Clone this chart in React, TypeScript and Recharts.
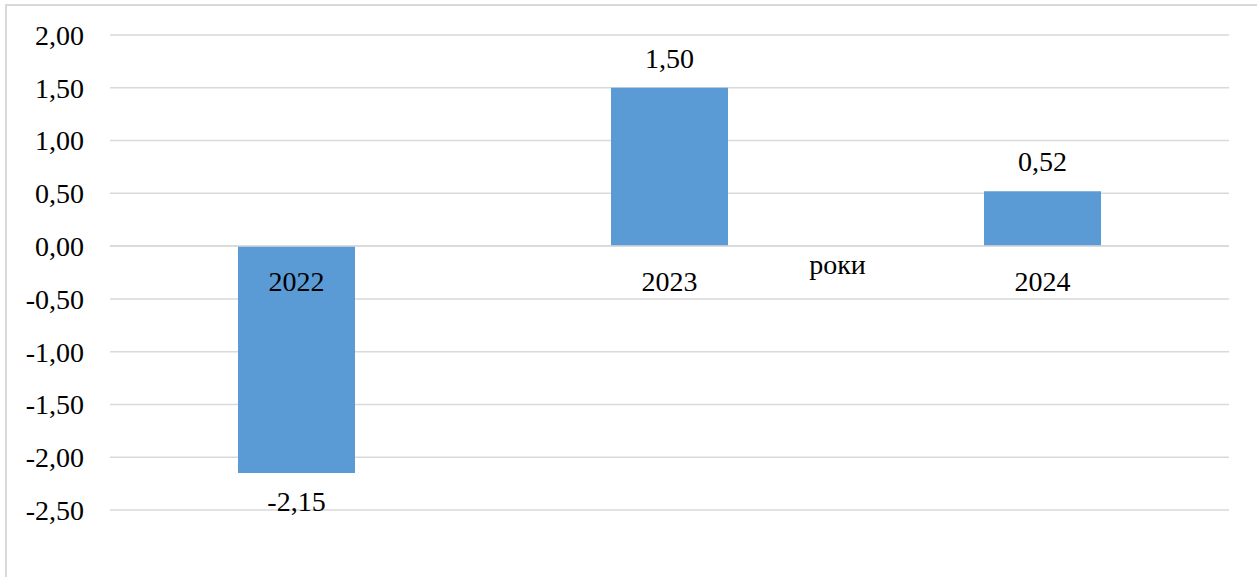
import { BarChart, Bar, XAxis, YAxis, CartesianGrid, LabelList, ReferenceDot, ReferenceLine } from "recharts";

const years = ["2022", "2023", "2024"];
const values = [-2.15, 1.5, 0.52];
const yTicks = [-2.5, -2, -1.5, -1, -0.5, 0, 0.5, 1, 1.5, 2];
const axisTitle = "роки";

const data = years.map((year, i) => ({ year, value: values[i] }));

const FONT = "Liberation Serif, Tinos, Times New Roman, DejaVu Serif, serif";
const txt = { fontSize: 28, fontFamily: FONT, fill: "#000" };
const fmt = (v: number) => v.toFixed(2).replace(".", ",");

// value label above positive bars, below negative ones
const ValueLabel = (props: any) => {
  const { x, y, width, height, value } = props;
  const top = Math.min(y, y + height);
  const bottom = Math.max(y, y + height);
  const cx = x + width / 2;
  const ty = value < 0 ? bottom + 38 : top - 20;
  return (
    <text x={cx} y={ty} textAnchor="middle" style={txt}>
      {fmt(value)}
    </text>
  );
};

export default function App() {
  return (
    <div style={{ position: "absolute", left: 0, top: 0, width: 1257, height: 577, overflow: "hidden", background: "#fff", fontFamily: FONT }}>
      <div
        style={{
          position: "absolute",
          left: 5,
          top: 4,
          width: 1300,
          height: 620,
          border: "2px solid #d9d9d9",
          boxSizing: "border-box",
        }}
      />
      <BarChart
        width={1257}
        height={577}
        data={data}
        margin={{ top: 35, right: 28, bottom: 67, left: 0 }}
        style={{ position: "absolute", left: 0, top: 0, fontFamily: FONT }}
      >
        <CartesianGrid vertical={false} stroke="#d9d9d9" strokeWidth={1.5} />
        <XAxis dataKey="year" hide />
        <YAxis
          domain={[-2.5, 2]}
          ticks={yTicks}
          width={110}
          axisLine={false}
          tickLine={false}
          tickSize={0}
          tickMargin={26}
          tickFormatter={fmt}
          tick={{ ...txt, style: txt }}
          interval={0}
        />
        <ReferenceLine
          y={0}
          stroke="#d9d9d9"
          strokeWidth={1.5}
          label={{ value: axisTitle, position: "center", dx: 168, dy: 18, ...txt, style: txt }}
        />
        <Bar dataKey="value" fill="#5b9bd5" barSize={117} isAnimationActive={false}>
          <LabelList dataKey="value" content={ValueLabel} />
        </Bar>
        {years.map((y) => (
          <ReferenceDot
            key={y}
            x={y}
            y={0}
            r={0}
            stroke="none"
            fill="none"
            label={{ value: y, position: "bottom", offset: 25, ...txt, style: txt }}
          />
        ))}
      </BarChart>
    </div>
  );
}
